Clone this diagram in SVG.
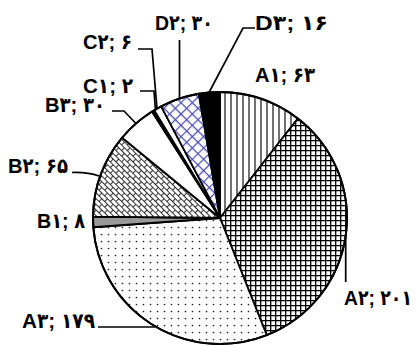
<svg xmlns="http://www.w3.org/2000/svg" width="417" height="345" viewBox="0 0 417 345">
<style>
.s{stroke:#000;stroke-width:1.8;stroke-linejoin:round}
.lbl{font-family:'Liberation Sans','DejaVu Sans Condensed','DejaVu Sans',Arial,sans-serif;font-weight:bold;font-size:21px;fill:#000}
.ld{fill:none;stroke:#000;stroke-width:1.7}
</style>
<defs>
<pattern id="pVert" width="6" height="6" patternUnits="userSpaceOnUse"><rect width="6" height="6" fill="#fff"/><line x1="3" y1="0" x2="3" y2="6" stroke="#333" stroke-width="1.4"/></pattern>
<pattern id="pGrid" width="5" height="5" patternUnits="userSpaceOnUse"><rect width="5" height="5" fill="#fff"/><path d="M0,0.7H5M0.7,0V5" stroke="#000" stroke-width="1.3"/></pattern>
<pattern id="pDots" width="7" height="7" patternUnits="userSpaceOnUse"><rect width="7" height="7" fill="#fff"/><circle cx="3.5" cy="3.5" r="0.85" fill="#222"/></pattern>
<pattern id="pBrick" width="8" height="8" patternUnits="userSpaceOnUse" patternTransform="rotate(45)"><rect width="8" height="8" fill="#fff"/><path d="M0,0.5H8M0,4.5H8M0.5,0.5V4.5M4.5,4.5V8.5" stroke="#333" stroke-width="1.1"/></pattern>
<pattern id="pDiamond" width="8" height="8" patternUnits="userSpaceOnUse" patternTransform="rotate(45)"><rect width="8" height="8" fill="#fff"/><path d="M0,0.6H8M0.6,0V8" stroke="#4a4ab8" stroke-width="1.2"/></pattern>
</defs>
<rect width="417" height="345" fill="#fff"/>
<g id="slice-A1"><path class="s" fill="url(#pVert)" d="M220,218 L220,92 A127,126 0 0 1 297.84,118.43 Z"/><text class="lbl" x="255" y="82" textLength="60" lengthAdjust="spacingAndGlyphs">A۱; ۶۳</text></g>
<g id="slice-A2"><path class="s" fill="url(#pGrid)" d="M220,218 L297.84,118.43 A127,126 0 0 1 266.75,335.15 Z"/><text class="lbl" x="344" y="305" textLength="68" lengthAdjust="spacingAndGlyphs">A۲; ۲۰۱</text></g>
<g id="slice-A3"><path class="s" fill="url(#pDots)" d="M220,218 L266.75,335.15 A127,126 0 0 1 93.34,227.23 Z"/><text class="lbl" x="22" y="328" textLength="73" lengthAdjust="spacingAndGlyphs">A۳; ۱۷۹</text></g>
<g id="slice-B1"><path class="s" fill="#999" d="M220,218 L93.34,227.23 A127,126 0 0 1 93.01,216.68 Z"/><text class="lbl" x="37" y="228" textLength="48" lengthAdjust="spacingAndGlyphs">B۱; ۸</text></g>
<g id="slice-B2"><path class="s" fill="url(#pBrick)" d="M220,218 L93.01,216.68 A127,126 0 0 1 122.15,137.69 Z"/><text class="lbl" x="8" y="173" textLength="60" lengthAdjust="spacingAndGlyphs">B۲; ۶۵</text></g>
<g id="slice-B3"><path class="s" fill="#fff" d="M220,218 L122.15,137.69 A127,126 0 0 1 151.95,111.61 Z"/><text class="lbl" x="45" y="112" textLength="60" lengthAdjust="spacingAndGlyphs">B۳; ۳۰</text></g>
<g id="slice-C1"><path class="s" fill="#000" d="M220,218 L151.95,111.61 A127,126 0 0 1 154.21,110.22 Z"/><text class="lbl" x="83" y="93" textLength="50" lengthAdjust="spacingAndGlyphs">C۱; ۲</text></g>
<g id="slice-C2"><path class="s" fill="#fff" d="M220,218 L154.21,110.22 A127,126 0 0 1 161.16,106.34 Z"/><text class="lbl" x="83" y="49" textLength="49" lengthAdjust="spacingAndGlyphs">C۲; ۶</text></g>
<g id="slice-D2"><path class="s" fill="url(#pDiamond)" d="M220,218 L161.16,106.34 A127,126 0 0 1 198.82,93.76 Z"/><text class="lbl" x="155" y="30" textLength="58" lengthAdjust="spacingAndGlyphs">D۲; ۳۰</text></g>
<g id="slice-D3"><path class="s" fill="#000" d="M220,218 L198.82,93.76 A127,126 0 0 1 220,92 Z"/><text class="lbl" x="255" y="30" textLength="73" lengthAdjust="spacingAndGlyphs">D۳; ۱۶</text></g>
<ellipse cx="220" cy="218" rx="127" ry="126" fill="none" stroke="#000" stroke-width="2"/>
<g id="leaders">
<path class="ld" d="M179.5,40 V98.6"/>
<path class="ld" d="M255,28 H243 L209,92.5"/>
<path class="ld" d="M138,49 H152 L157,108.5"/>
<path class="ld" d="M140,91 H154 L155.5,110.5"/>
<path class="ld" d="M112,111 H124 L136,123.5"/>
<path class="ld" d="M72,172.5 Q88,172 99,176"/>
<path class="ld" d="M98,327 H155"/>
<path class="ld" d="M345.7,236 V282"/>
</g>
</svg>
